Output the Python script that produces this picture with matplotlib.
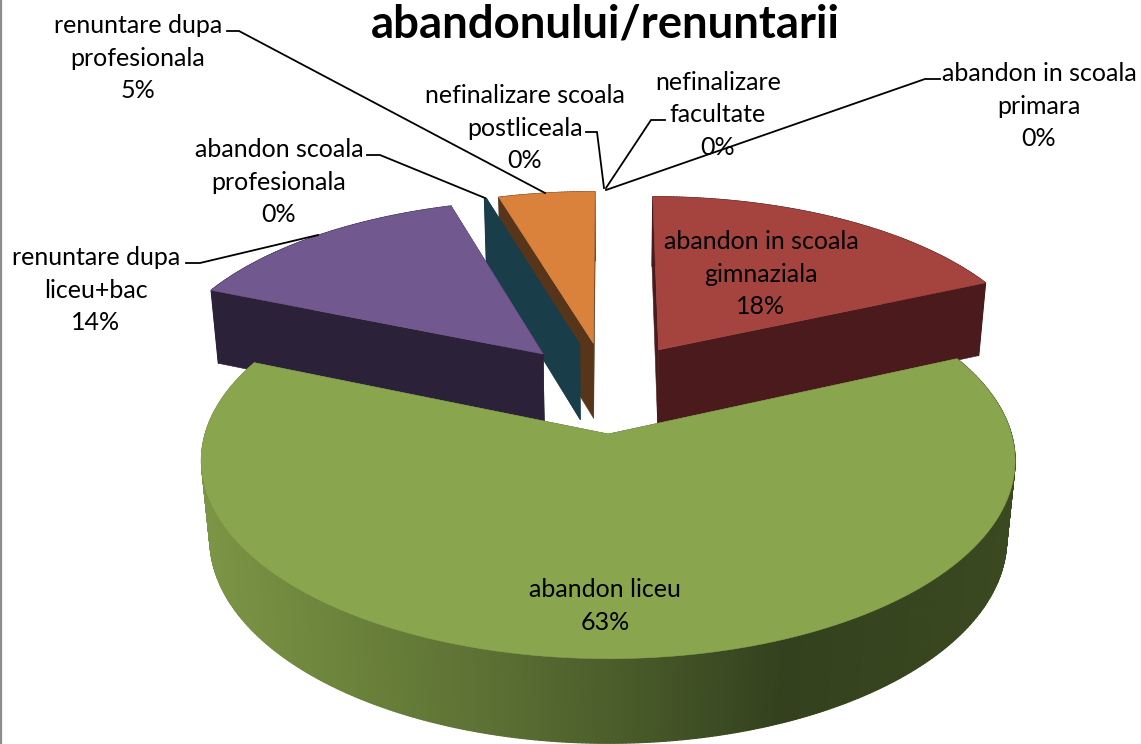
import numpy as np
import matplotlib
matplotlib.use("Agg")
import matplotlib.pyplot as plt
from matplotlib.collections import PolyCollection
from matplotlib.colors import LinearSegmentedColormap

title = "abandonului/renuntarii"
categories = ["abandon in scoala\nprimara", "abandon in scoala\ngimnaziala", "abandon liceu",
              "renuntare dupa\nliceu+bac", "abandon scoala\nprofesionala",
              "renuntare dupa\nprofesionala", "nefinalizare scoala\npostliceala",
              "nefinalizare\nfacultate"]
values = [0.0, 18.3, 63.0, 14.0, 0.1, 4.6, 0.0, 0.0]
top_colors = ["#4F81BD", "#A5443F", "#89A54E", "#71588F", "#1A3D4A", "#DA813B", "#4F81BD", "#C0504D"]
wall_colors = ["#263F5E", "#4A1A1C", "#4A5A28", "#2B2138", "#1A3D4A", "#57351A", "#263F5E", "#4A1A1C"]
draw_order = [5, 4, 3, 1, 2]
green_wall_x = [0.0, 0.13, 0.37, 0.5, 0.72, 1.0]
green_wall_c = ["#7C9445", "#6F873D", "#5A6E33", "#4C5E2B", "#33411E", "#3A4920"]

START = 0.0
EXPLODE = 0.25
CX, CY, A, B, D = 607.0, 387.0, 390.0, 182.0, 78.0
K, M = 0.13, 0.02

def project(X, Y, z):
    s = 1.0 / (1.0 + K * Y + M * z)
    return CX + A * X * s, CY - (B * Y - D * z) * s

fig = plt.figure(figsize=(11.41, 7.44), dpi=100)
ax = fig.add_axes([0, 0, 1, 1])
ax.set_xlim(0, 1141)
ax.set_ylim(744, 0)
ax.axis("off")
plt.rcParams["font.family"] = ["Lato", "DejaVu Sans"]

edges = START + np.cumsum([0.0] + values) * 3.6 / (sum(values) / 100.0)
gmap = LinearSegmentedColormap.from_list("g", list(zip(green_wall_x, green_wall_c)))

def poly(pts, color, z):
    ax.fill(*zip(*pts), facecolor=color, edgecolor=color, lw=0.4, zorder=z)

z = 2
for i in draw_order:
    a0, a1 = np.radians(edges[i]), np.radians(edges[i + 1])
    mid = 0.5 * (a0 + a1)
    ox, oy = EXPLODE * np.sin(mid), EXPLODE * np.cos(mid)
    th = np.linspace(a0, a1, max(3, int(np.degrees(a1 - a0) * 2)))
    px, py = ox + np.sin(th), oy + np.cos(th)
    # radial walls
    for t in (a0, a1):
        rx, ry = ox + np.sin(t), oy + np.cos(t)
        poly([project(ox, oy, 0), project(rx, ry, 0), project(rx, ry, 1), project(ox, oy, 1)], wall_colors[i], z)
    # outer wall
    tx, ty = project(px, py, 0)
    bx, by = project(px, py, 1)
    quads = [[(tx[j], ty[j]), (tx[j + 1], ty[j + 1]), (bx[j + 1], by[j + 1]), (bx[j], by[j])] for j in range(len(th) - 1)]
    if i == 2:
        cols = [gmap((0.5 * (tx[j] + tx[j + 1]) - 205) / 805) for j in range(len(th) - 1)]
    else:
        cols = [wall_colors[i]] * (len(th) - 1)
    ax.add_collection(PolyCollection(quads, facecolors=cols, edgecolors=cols, linewidths=0.9, zorder=z))
    # top face
    cx0, cy0 = project(ox, oy, 0)
    poly([(cx0, cy0)] + list(zip(tx, ty)), top_colors[i], z + 0.5)
    z += 1

ax.plot([1, 1], [0, 744], color="#8C8C8C", lw=1.6, zorder=1, solid_capstyle="butt")

ax.text(605, 25, title, ha="center", va="center", fontsize=32.8, fontweight="bold", color="black", zorder=30)

label_pos = [(1039, 106), (761, 274), (605, 606), (96, 290), (279, 182), (138, 58), (525, 128), (718, 115)]
for name, v, (x, y) in zip(categories, values, label_pos):
    ax.text(x, y, f"{name}\n{round(v)}%", ha="center", va="center", fontsize=18,
            linespacing=1.5, color="black", zorder=30, multialignment="center")

leaders = [[(940, 79), (925, 79), (606, 190)],
           [(665, 120), (651, 120), (606, 188)],
           [(586, 132), (597, 132), (604, 188)],
           [(227, 31), (239, 31), (545, 193)],
           [(367, 155), (380, 155), (485, 198)],
           [(186, 263), (200, 263), (318, 235)]]
for pts in leaders:
    ax.plot(*zip(*pts), color="black", lw=1.3, zorder=25, solid_joinstyle="miter")

fig.savefig("out.png", dpi=100, facecolor="white")
